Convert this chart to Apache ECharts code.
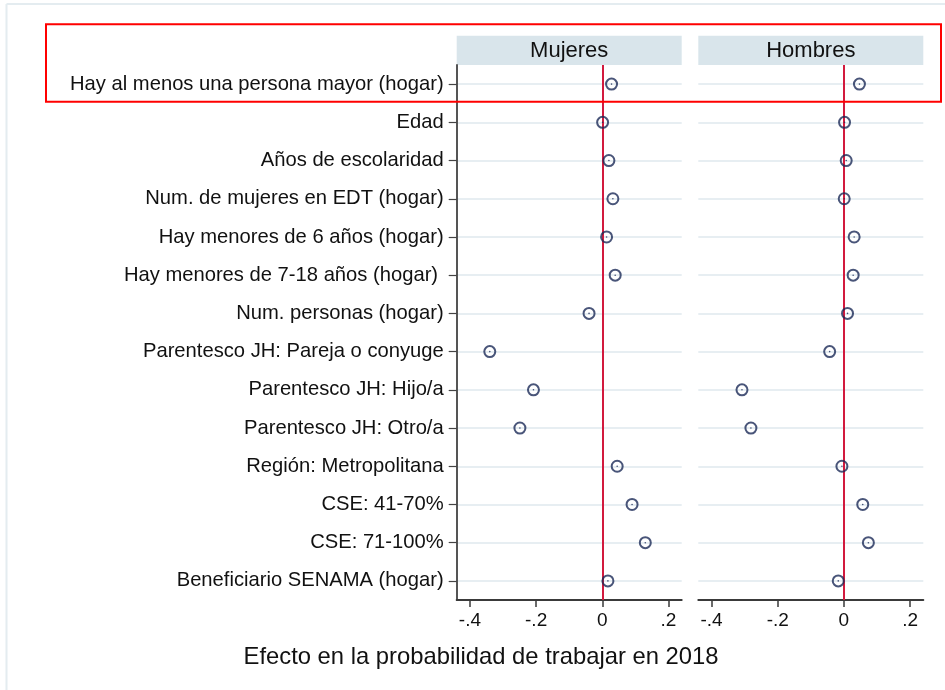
<!DOCTYPE html>
<html>
<head>
<meta charset="utf-8">
<script src="https://cdn.jsdelivr.net/npm/echarts@6/dist/echarts.min.js"></script>
<style>
html,body{margin:0;padding:0;background:#fff;}
#chart{width:945px;height:690px;}
</style>
</head>
<body>
<div id="chart"></div>
<script>
const categories = [
  'Hay al menos una persona mayor (hogar)',
  'Edad',
  'Años de escolaridad',
  'Num. de mujeres en EDT (hogar)',
  'Hay menores de 6 años (hogar)',
  'Hay menores de 7-18 años (hogar) ',
  'Num. personas (hogar)',
  'Parentesco JH: Pareja o conyuge',
  'Parentesco JH: Hijo/a',
  'Parentesco JH: Otro/a',
  'Región: Metropolitana',
  'CSE: 41-70%',
  'CSE: 71-100%',
  'Beneficiario SENAMA (hogar)'
];
const panels = ['Mujeres', 'Hombres'];
const mujeres = [0.028, 0.001, 0.020, 0.032, 0.013, 0.039, -0.040, -0.340, -0.208, -0.249, 0.045, 0.090, 0.130, 0.017];
const hombres = [0.047, 0.002, 0.007, 0.001, 0.031, 0.028, 0.011, -0.043, -0.308, -0.281, -0.006, 0.057, 0.074, -0.017];
const xTicks = [-0.4, -0.2, 0, 0.2];
const xTickLabels = ['-.4', '-.2', '0', '.2'];
const xTitle = 'Efecto en la probabilidad de trabajar en 2018';

const FONT = '"Liberation Sans", Arial, Helvetica, sans-serif';
const W = 945, H = 690;
const gridTop = 65, gridBottomY = 600, panelW = 225;
const gridLefts = [456.7, 698.3];
const xMin = -0.44, xMax = 0.24;
const seriesVals = [mujeres, hombres];

const chart = echarts.init(document.getElementById('chart'), null, {renderer: 'canvas'});

const grids = gridLefts.map(l => ({
  left: l, top: gridTop, width: panelW, height: gridBottomY - gridTop, containLabel: false
}));

const xAxes = gridLefts.map((l, i) => ({
  type: 'value', gridIndex: i, min: xMin, max: xMax,
  axisLine: {show: true, onZero: false, lineStyle: {color: '#3a3a3a', width: 2}},
  axisTick: {show: true, length: 7, lineStyle: {color: '#3a3a3a', width: 1.5}, customValues: xTicks},
  axisLabel: {
    show: true, customValues: xTicks, margin: 11,
    fontFamily: FONT, fontSize: 19, color: '#111',
    formatter: v => {
      const k = xTicks.findIndex(t => Math.abs(t - v) < 1e-9);
      return k >= 0 ? xTickLabels[k] : '';
    }
  },
  splitLine: {show: false}
}));

const yAxes = gridLefts.map((l, i) => ({
  type: 'category', gridIndex: i, data: categories, inverse: true, boundaryGap: true,
  axisLine: {show: i === 0, onZero: false, lineStyle: {color: '#555', width: 2}},
  axisTick: {show: i === 0, alignWithLabel: true, length: 8, lineStyle: {color: '#444', width: 1.2}},
  axisLabel: {show: i === 0, margin: 13, fontFamily: FONT, fontSize: 20.2, color: '#111'},
  splitLine: {show: true, alignWithLabel: true, lineStyle: {color: '#e7eef2', width: 2}}
}));

const series = [];
seriesVals.forEach((vals, i) => {
  series.push({
    type: 'scatter', xAxisIndex: i, yAxisIndex: i,
    data: vals.map((v, k) => [v, categories[k]]),
    symbol: 'circle', symbolSize: 11,
    itemStyle: {color: 'rgba(255,255,255,0)', borderColor: '#1c2b58', borderWidth: 2},
    z: 5,
    markLine: {
      silent: true, symbol: 'none', label: {show: false},
      lineStyle: {color: '#d21a3e', width: 2, type: 'solid'},
      data: [{xAxis: 0}], z: 3
    }
  });
  series.push({
    type: 'scatter', xAxisIndex: i, yAxisIndex: i,
    data: vals.map((v, k) => [v, categories[k]]),
    symbol: 'circle', symbolSize: 1.6,
    itemStyle: {color: '#1c2b58'}, z: 6, silent: true
  });
});

const graphics = [];
graphics.push({type: 'line', shape: {x1: 6.5, y1: 4, x2: W, y2: 4}, style: {stroke: '#e4ecf0', lineWidth: 2}, silent: true});
graphics.push({type: 'line', shape: {x1: 6.5, y1: 4, x2: 6.5, y2: H}, style: {stroke: '#e4ecf0', lineWidth: 2}, silent: true});
gridLefts.forEach((l, i) => {
  graphics.push({type: 'rect', shape: {x: l, y: 35.7, width: panelW, height: gridTop - 35.7}, style: {fill: '#d9e5eb'}, silent: true});
  graphics.push({type: 'text', x: l + panelW / 2, y: (35.7 + gridTop) / 2 + 1,
    style: {text: panels[i], font: '22px ' + FONT, fill: '#111', textAlign: 'center', textVerticalAlign: 'middle'}, silent: true});
});
graphics.push({type: 'text', x: 481, y: 657,
  style: {text: xTitle, font: '23.8px ' + FONT, fill: '#111', textAlign: 'center', textVerticalAlign: 'middle'}, silent: true});
graphics.push({type: 'rect', shape: {x: 46, y: 24.3, width: 895, height: 77.4},
  style: {fill: 'none', stroke: '#ff0000', lineWidth: 2}, z: 100, silent: true});

chart.setOption({
  animation: false,
  backgroundColor: '#ffffff',
  grid: grids,
  xAxis: xAxes,
  yAxis: yAxes,
  series: series,
  graphic: graphics
});
</script>
</body>
</html>
